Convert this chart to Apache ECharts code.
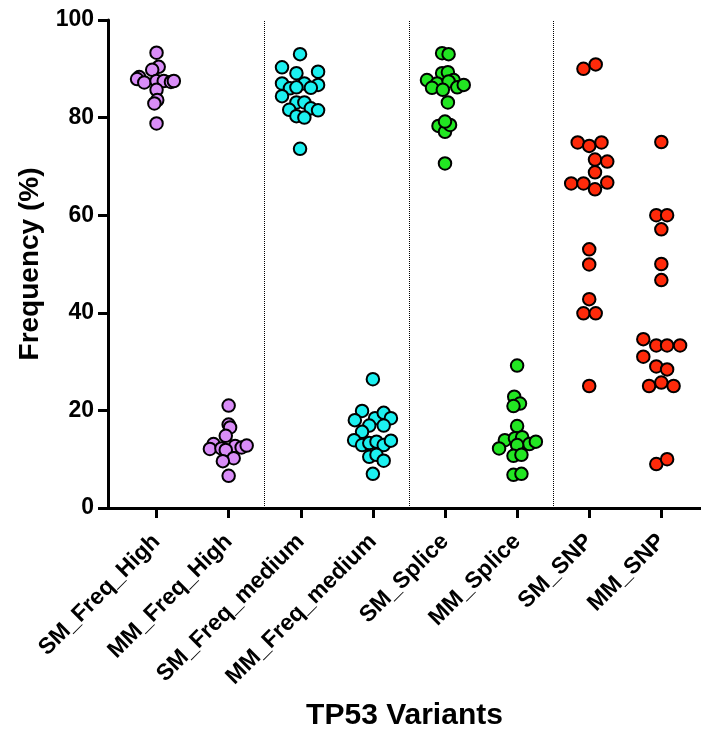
<!DOCTYPE html>
<html>
<head>
<meta charset="utf-8">
<script src="https://cdn.jsdelivr.net/npm/echarts@6/dist/echarts.min.js"></script>
<style>
  html, body { margin: 0; padding: 0; background: #fff; }
  #chart { width: 701px; height: 738px; }
</style>
</head>
<body>
<div id="chart"></div>
<script>
// categories along the x axis
const categories = ['SM_Freq_High', 'MM_Freq_High', 'SM_Freq_medium', 'MM_Freq_medium',
                    'SM_Splice', 'MM_Splice', 'SM_SNP', 'MM_SNP'];
const yTicks = [0, 20, 40, 60, 80, 100];

// frequency values (%) per variant group, with the horizontal scatter of each dot
// (fraction of one category width)
const smFreqHigh    = [93.3, 90.4, 89.8, 88.3, 87.9, 87.2, 87.5, 87.5, 87.3, 87.5, 85.7, 83.6, 82.9, 78.8];
const smFreqHighJit = [0, 0.03, -0.06, -0.24, -0.27, -0.17, 0, 0.10, 0.20, 0.24, 0, 0.01, -0.03, 0];

const mmFreqHigh    = [21.0, 17.1, 16.5, 14.8, 13.1, 12.1, 12.2, 12.7, 12.4, 12.8, 11.9, 10.2, 9.6, 6.6];
const mmFreqHighJit = [0, 0, 0.02, -0.04, -0.21, -0.26, -0.10, 0.09, 0.18, 0.25, -0.04, 0.07, -0.08, 0];

const smFreqMed    = [93.0, 90.3, 89.4, 89.1, 87.0, 87.0, 86.7, 86.0, 86.2, 86.1, 84.4, 83.1, 83.1, 81.9, 81.5, 81.6, 80.3, 80.0, 73.6];
const smFreqMedJit = [-0.01, -0.26, 0.24, -0.06, -0.26, 0.05, 0.24, -0.15, -0.06, 0.14, -0.26, -0.06, 0.05, 0.14, 0.24, -0.16, -0.06, 0.05, -0.01];

const mmFreqMed    = [26.4, 19.9, 18.0, 18.4, 19.5, 18.4, 16.9, 16.9, 15.6, 13.9, 12.9, 13.3, 13.6, 12.9, 13.8, 10.5, 10.9, 9.7, 7.0];
const mmFreqMedJit = [0, -0.15, -0.25, 0.03, 0.15, 0.25, -0.05, 0.15, -0.15, -0.26, -0.15, -0.05, 0.05, 0.15, 0.25, -0.05, 0.05, 0.15, 0];

const smSplice    = [93.2, 93.0, 89.1, 89.3, 87.7, 87.7, 87.0, 87.4, 86.1, 85.7, 86.2, 86.7, 83.1, 78.3, 77.1, 78.5, 79.2, 70.6];
const smSpliceJit = [-0.04, 0.05, -0.04, 0.04, -0.25, 0.12, -0.11, 0.05, -0.18, -0.03, 0.17, 0.26, 0.04, -0.09, 0, 0.07, 0, 0];

const mmSplice    = [29.2, 22.8, 21.4, 20.9, 16.8, 13.9, 14.3, 14.5, 13.1, 13.6, 12.2, 12.9, 10.7, 10.9, 6.8, 7.0];
const mmSpliceJit = [0, -0.04, 0.04, -0.05, 0, -0.17, -0.03, 0.07, 0.17, 0.26, -0.25, 0, -0.05, 0.06, -0.05, 0.06];

const smSnp    = [90.0, 90.9, 74.9, 74.2, 74.9, 71.4, 71.0, 68.8, 66.5, 66.5, 66.7, 65.3, 53.0, 49.9, 42.8, 39.9, 39.9, 25.0];
const smSnpJit = [-0.08, 0.09, -0.16, 0, 0.17, 0.08, 0.25, 0.08, -0.25, -0.08, 0.25, 0.08, 0, 0, 0, -0.08, 0.09, 0];

const mmSnp    = [75.0, 60.0, 60.0, 57.1, 50.0, 46.7, 34.6, 33.3, 33.3, 33.3, 31.0, 29.0, 28.4, 25.0, 25.7, 25.0, 9.0, 10.0];
const mmSnpJit = [0, -0.07, 0.08, 0, 0, 0, -0.25, -0.07, 0.08, 0.26, -0.25, -0.07, 0.08, -0.17, 0, 0.17, -0.07, 0.08];

const groups = [
  [smFreqHigh, smFreqHighJit], [mmFreqHigh, mmFreqHighJit],
  [smFreqMed, smFreqMedJit],   [mmFreqMed, mmFreqMedJit],
  [smSplice, smSpliceJit],     [mmSplice, mmSpliceJit],
  [smSnp, smSnpJit],           [mmSnp, mmSnpJit]
];
const colors = ['#D98DF7', '#D98DF7', '#1CF0F0', '#1CF0F0', '#22E622', '#22E622', '#FF2A0A', '#FF2A0A'];
const dividers = [1.5, 3.5, 5.5];

const FONT = 'Liberation Sans';
const chart = echarts.init(document.getElementById('chart'));

const series = groups.map(function (g, i) {
  return {
    type: 'scatter',
    name: categories[i],
    symbol: 'circle',
    symbolSize: 12.5,
    itemStyle: { color: colors[i], borderColor: '#000', borderWidth: 2, opacity: 1 },
    data: g[0].map(function (v, k) { return [i + g[1][k], v]; })
  };
});
// dotted separators between the variant families
series[0].markLine = {
  silent: true,
  symbol: 'none',
  label: { show: false },
  lineStyle: { type: 'dotted', color: '#000', width: 1 },
  data: dividers.map(function (d) { return { xAxis: d }; })
};

chart.setOption({
  animation: false,
  grid: { left: 108, right: 0, top: 20, bottom: 230, containLabel: false },
  xAxis: {
    type: 'value',
    min: -0.673,
    max: 7.55,
    name: 'TP53 Variants',
    nameLocation: 'middle',
    nameGap: 193,
    nameTextStyle: { fontFamily: FONT, fontWeight: 'bold', fontSize: 30, color: '#000' },
    splitLine: { show: false },
    axisLine: { show: true, lineStyle: { color: '#000', width: 3 } },
    axisTick: { show: true, length: 10, lineStyle: { color: '#000', width: 3 },
                customValues: categories.map(function (c, i) { return i; }) },
    axisLabel: {
      rotate: 45,
      margin: 30,
      fontFamily: FONT, fontWeight: 'bold', fontSize: 23, color: '#000',
      customValues: categories.map(function (c, i) { return i; }),
      formatter: function (v) { return categories[Math.round(v)]; }
    }
  },
  yAxis: {
    type: 'value',
    min: yTicks[0],
    max: yTicks[yTicks.length - 1],
    interval: 20,
    name: 'Frequency (%)',
    nameLocation: 'middle',
    nameGap: 64,
    nameTextStyle: { fontFamily: FONT, fontWeight: 'bold', fontSize: 28, color: '#000' },
    splitLine: { show: false },
    axisLine: { show: true, onZero: false, lineStyle: { color: '#000', width: 3 } },
    axisTick: { show: true, length: 10, lineStyle: { color: '#000', width: 3 } },
    axisLabel: { margin: 14, fontFamily: FONT, fontWeight: 'bold', fontSize: 23, color: '#000' }
  },
  series: series
});
</script>
</body>
</html>
